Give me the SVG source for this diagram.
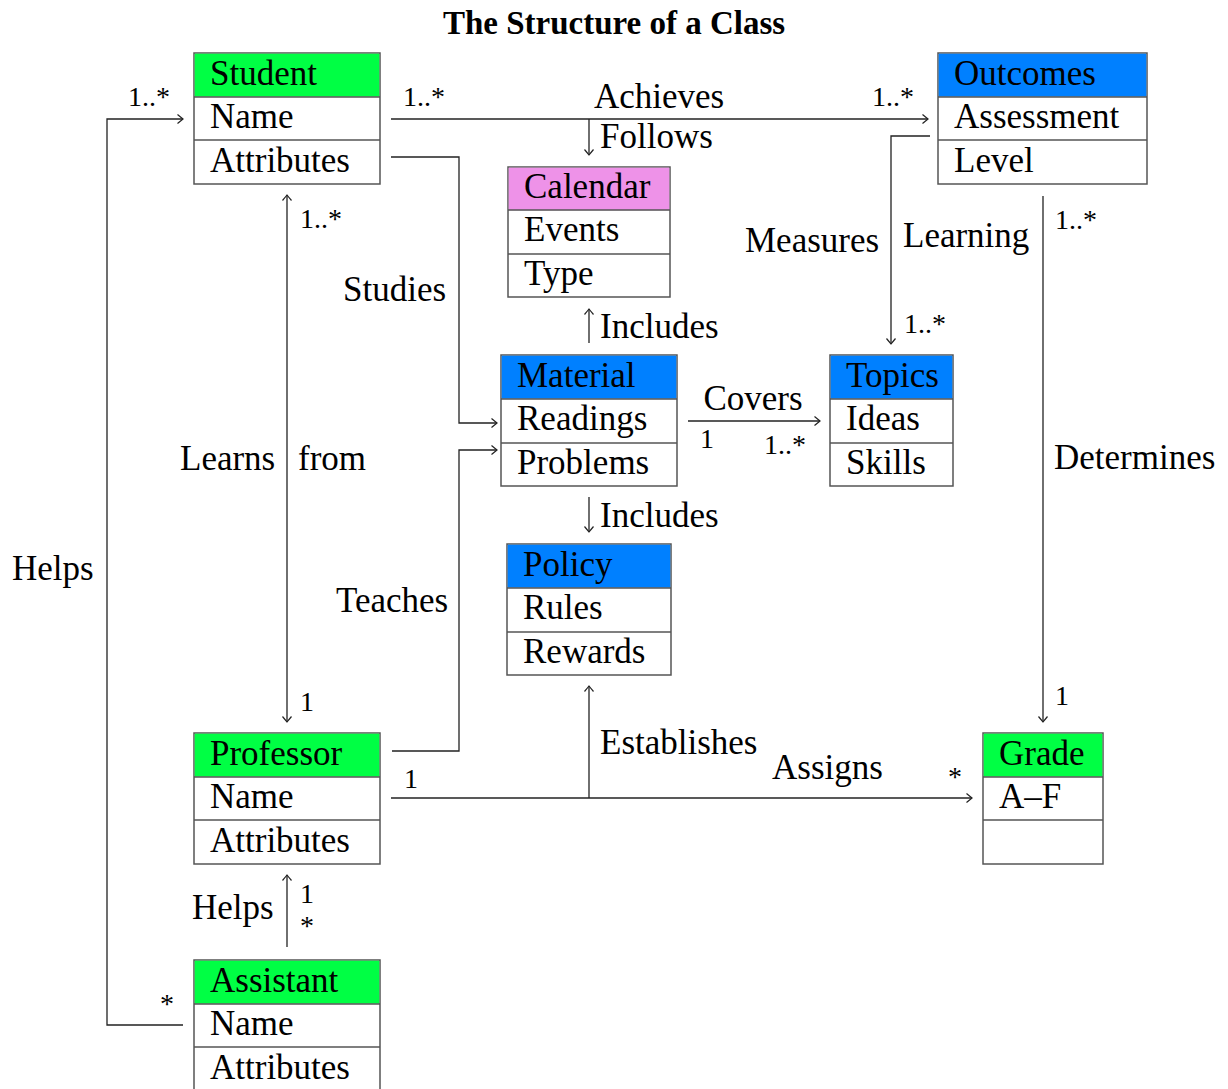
<svg xmlns="http://www.w3.org/2000/svg" width="1228" height="1089" viewBox="0 0 1228 1089">
<defs>
<style>
text{font-family:"Liberation Serif","Times New Roman",serif;fill:#000}
.t{font-size:35px}
.m{font-size:28px}
.title{font-size:33px;font-weight:bold}
.box{fill:#fff;stroke:#555;stroke-width:1.5}
.g{fill:#00FF44}
.b{fill:#0080FF}
.p{fill:#EE92E8}
.sep{stroke:#555;stroke-width:1.5}
.c{fill:none;stroke:#222;stroke-width:1.3}
</style>
<marker id="ar" markerUnits="userSpaceOnUse" markerWidth="14" markerHeight="14" viewBox="-8 -7 10 14" refX="0" refY="0" orient="auto-start-reverse">
<path d="M-5.5,-4.5 Q-1.5,-1.2 0,0 Q-1.5,1.2 -5.5,4.5" fill="none" stroke="#222" stroke-width="1.2"/>
</marker>
</defs>
<rect width="1228" height="1089" fill="#fff"/>
<text class="title" x="614" y="34" text-anchor="middle">The Structure of a Class</text>

<g id="student">
<rect class="box" x="194" y="53" width="186" height="131"/>
<rect class="g" x="194.7" y="53.7" width="184.6" height="43"/>
<line class="sep" x1="194" y1="97" x2="380" y2="97"/>
<line class="sep" x1="194" y1="140" x2="380" y2="140"/>
<text class="t" x="210" y="85">Student</text>
<text class="t" x="210" y="128">Name</text>
<text class="t" x="210" y="172">Attributes</text>
</g>

<g id="outcomes">
<rect class="box" x="938" y="53" width="209" height="131"/>
<rect class="b" x="938.7" y="53.7" width="207.6" height="43"/>
<line class="sep" x1="938" y1="97" x2="1147" y2="97"/>
<line class="sep" x1="938" y1="140" x2="1147" y2="140"/>
<text class="t" x="954" y="85">Outcomes</text>
<text class="t" x="954" y="128">Assessment</text>
<text class="t" x="954" y="172">Level</text>
</g>

<g id="calendar">
<rect class="box" x="508" y="167" width="162" height="130"/>
<rect class="p" x="508.7" y="167.7" width="160.6" height="42.5"/>
<line class="sep" x1="508" y1="210" x2="670" y2="210"/>
<line class="sep" x1="508" y1="254" x2="670" y2="254"/>
<text class="t" x="524" y="198">Calendar</text>
<text class="t" x="524" y="241">Events</text>
<text class="t" x="524" y="285">Type</text>
</g>

<g id="material">
<rect class="box" x="501" y="355" width="176" height="131"/>
<rect class="b" x="501.7" y="355.7" width="174.6" height="43"/>
<line class="sep" x1="501" y1="399" x2="677" y2="399"/>
<line class="sep" x1="501" y1="443" x2="677" y2="443"/>
<text class="t" x="517" y="387">Material</text>
<text class="t" x="517" y="430">Readings</text>
<text class="t" x="517" y="474">Problems</text>
</g>

<g id="topics">
<rect class="box" x="830" y="355" width="123" height="131"/>
<rect class="b" x="830.7" y="355.7" width="121.6" height="43"/>
<line class="sep" x1="830" y1="399" x2="953" y2="399"/>
<line class="sep" x1="830" y1="443" x2="953" y2="443"/>
<text class="t" x="846" y="387">Topics</text>
<text class="t" x="846" y="430">Ideas</text>
<text class="t" x="846" y="474">Skills</text>
</g>

<g id="policy">
<rect class="box" x="507" y="544" width="164" height="131"/>
<rect class="b" x="507.7" y="544.7" width="162.6" height="43"/>
<line class="sep" x1="507" y1="588" x2="671" y2="588"/>
<line class="sep" x1="507" y1="632" x2="671" y2="632"/>
<text class="t" x="523" y="576">Policy</text>
<text class="t" x="523" y="619">Rules</text>
<text class="t" x="523" y="663">Rewards</text>
</g>

<g id="professor">
<rect class="box" x="194" y="733" width="186" height="131"/>
<rect class="g" x="194.7" y="733.7" width="184.6" height="43"/>
<line class="sep" x1="194" y1="777" x2="380" y2="777"/>
<line class="sep" x1="194" y1="820" x2="380" y2="820"/>
<text class="t" x="210" y="765">Professor</text>
<text class="t" x="210" y="808">Name</text>
<text class="t" x="210" y="852">Attributes</text>
</g>

<g id="grade">
<rect class="box" x="983" y="733" width="120" height="131"/>
<rect class="g" x="983.7" y="733.7" width="118.6" height="43"/>
<line class="sep" x1="983" y1="777" x2="1103" y2="777"/>
<line class="sep" x1="983" y1="820" x2="1103" y2="820"/>
<text class="t" x="999" y="765">Grade</text>
<text class="t" x="999" y="808">A–F</text>
</g>

<g id="assistant">
<rect class="box" x="194" y="960" width="186" height="131"/>
<rect class="g" x="194.7" y="960.7" width="184.6" height="43"/>
<line class="sep" x1="194" y1="1004" x2="380" y2="1004"/>
<line class="sep" x1="194" y1="1047" x2="380" y2="1047"/>
<text class="t" x="210" y="992">Assistant</text>
<text class="t" x="210" y="1035">Name</text>
<text class="t" x="210" y="1079">Attributes</text>
</g>

<g id="connectors">
<line class="c" x1="391" y1="119" x2="928" y2="119" marker-end="url(#ar)"/>
<line class="c" x1="589" y1="119" x2="589" y2="155" marker-end="url(#ar)"/>
<polyline class="c" points="391,157 459,157 459,423 497,423" marker-end="url(#ar)"/>
<polyline class="c" points="392,751 459,751 459,450 497,450" marker-end="url(#ar)"/>
<line class="c" x1="287" y1="195" x2="287" y2="722" marker-start="url(#ar)" marker-end="url(#ar)"/>
<line class="c" x1="589" y1="343" x2="589" y2="309" marker-end="url(#ar)"/>
<line class="c" x1="589" y1="497" x2="589" y2="532" marker-end="url(#ar)"/>
<line class="c" x1="688" y1="421" x2="820" y2="421" marker-end="url(#ar)"/>
<polyline class="c" points="930,136 891,136 891,344" marker-end="url(#ar)"/>
<line class="c" x1="1043" y1="196" x2="1043" y2="722" marker-end="url(#ar)"/>
<line class="c" x1="391" y1="798" x2="972" y2="798" marker-end="url(#ar)"/>
<line class="c" x1="589" y1="798" x2="589" y2="686" marker-end="url(#ar)"/>
<line class="c" x1="287" y1="947" x2="287" y2="875" marker-end="url(#ar)"/>
<polyline class="c" points="183,1025 107,1025 107,119 183,119" marker-end="url(#ar)"/>

<text class="t" x="659" y="108" text-anchor="middle">Achieves</text>
<text class="m" x="403" y="106">1..*</text>
<text class="m" x="872" y="106">1..*</text>
<text class="m" x="128" y="106">1..*</text>
<text class="t" x="600" y="148">Follows</text>
<text class="t" x="343" y="301">Studies</text>
<text class="t" x="745" y="252">Measures</text>
<text class="t" x="903" y="247">Learning</text>
<text class="m" x="1055" y="229">1..*</text>
<text class="m" x="300" y="228">1..*</text>
<text class="m" x="904" y="333">1..*</text>
<text class="t" x="600" y="338">Includes</text>
<text class="t" x="753" y="410" text-anchor="middle">Covers</text>
<text class="m" x="700" y="448">1</text>
<text class="m" x="764" y="454">1..*</text>
<text class="t" x="180" y="470">Learns</text>
<text class="t" x="298" y="470">from</text>
<text class="t" x="1054" y="469">Determines</text>
<text class="t" x="600" y="527">Includes</text>
<text class="t" x="12" y="580">Helps</text>
<text class="t" x="336" y="612">Teaches</text>
<text class="m" x="300" y="711">1</text>
<text class="m" x="1055" y="705">1</text>
<text class="t" x="600" y="754">Establishes</text>
<text class="t" x="772" y="779">Assigns</text>
<text class="m" x="404" y="788">1</text>
<text class="m" x="948" y="786">*</text>
<text class="t" x="192" y="919">Helps</text>
<text class="m" x="300" y="903">1</text>
<text class="m" x="300" y="935">*</text>
<text class="m" x="160" y="1013">*</text>
</g>
</svg>
